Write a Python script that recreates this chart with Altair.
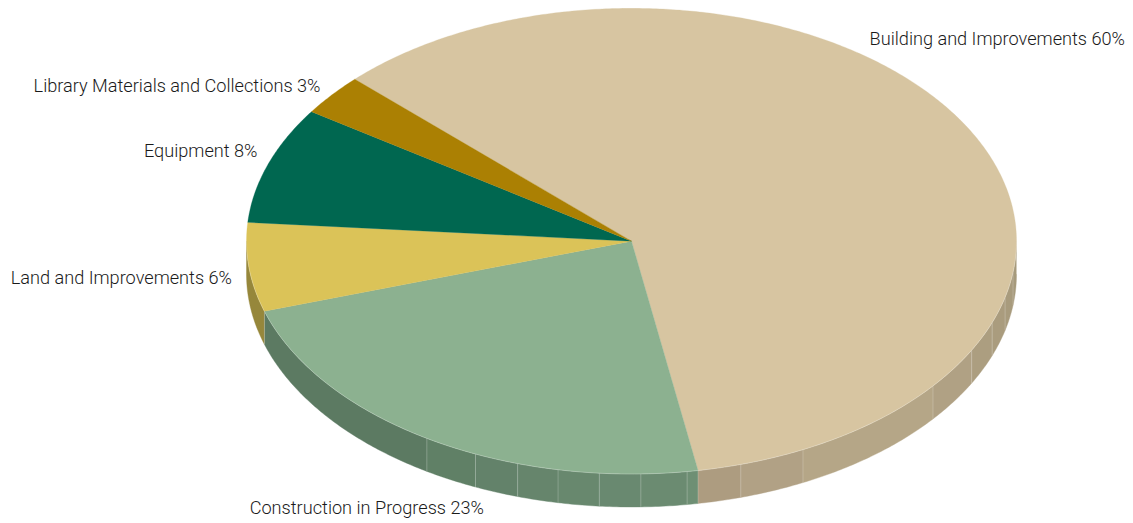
import math
import altair as alt
import pandas as pd

categories = ["Building and Improvements", "Construction in Progress", "Land and Improvements", "Equipment", "Library Materials and Collections"]
shares = [60.0, 22.9, 6.15, 8.1, 2.85]
slice_colors = ["#D7C5A1", "#8CB190", "#DBC358", "#006750", "#AB8003"]
start_angle = 314.05

# wall facets: clockwise angle (deg) of each facet edge
wall_edges = [90, 97.7, 104, 110.5, 117.9, 128.45, 153.55, 163.5, 170.05,
              171.7, 178.6, 184.8, 191.0, 197.2, 203.9, 212.1, 252.45, 270]
wall_colors = ["#A69A7C", "#A89B7D", "#AA9C7E", "#AC9E80", "#B0A184", "#B5A687", "#B1A185", "#AD9C80",
               "#6E8F74", "#6B8B71", "#698970", "#68886E", "#66856C", "#63826A", "#608066", "#5C7A62", "#96873B"]
separators = [97.7, 104, 110.5, 117.9, 128.45, 153.55, 163.5, 170.05, 171.7, 178.6, 184.8, 191.0, 197.2, 203.9, 212.1, 252.45]
depth = 33 / 233

label_anchor = [(1117, 32), (476, 501), (224, 271), (249.5, 144), (312.5, 79)]

xs = alt.Scale(domain=[-1, 1], range=[238.5, 1008.5])
ys = alt.Scale(domain=[-1, 1], range=[466, 0.3])
X = lambda: alt.X("x:Q", scale=xs, axis=None)
Y = lambda: alt.Y("y:Q", scale=ys, axis=None)


def pt(a):
    r = math.radians(a)
    return math.sin(r), math.cos(r)


def arc_angles(a0, a1):
    n = max(2, int(abs(a1 - a0) * 2) + 1)
    return [a0 + (a1 - a0) * i / (n - 1) for i in range(n)]


wall_rows = []
for k, color in enumerate(wall_colors):
    a0, a1 = wall_edges[k], wall_edges[k + 1]
    i = 0
    for a in arc_angles(a0, a1):
        x, y = pt(a)
        wall_rows.append(dict(f=k, i=i, x=x, y=y, color=color)); i += 1
    for a in arc_angles(a1, a0):
        x, y = pt(a)
        wall_rows.append(dict(f=k, i=i, x=x, y=y - depth, color=color)); i += 1

top_rows = []
angle = start_angle
for k, (s, color) in enumerate(zip(shares, slice_colors)):
    span = s * 3.6
    rows = [(0.0, 0.0)] + [pt(a) for a in arc_angles(angle, angle + span)] + [(0.0, 0.0)]
    for i, (x, y) in enumerate(rows):
        top_rows.append(dict(f=k, i=i, x=x, y=y, color=color))
    angle += span

sep_rows = []
for a in separators:
    x, y = pt(a)
    sep_rows.append(dict(x=x, y=y, y2=y - depth))

rim_rows = [dict(i=i, x=pt(a)[0], y=pt(a)[1]) for i, a in enumerate(arc_angles(90, 270))]


def polys(rows, sw):
    return alt.Chart(pd.DataFrame(rows)).mark_line(strokeWidth=sw, interpolate="linear").encode(
        x=X(), y=Y(),
        fill=alt.Fill("color:N", scale=None, legend=None),
        stroke=alt.Stroke("color:N", scale=None, legend=None),
        detail="f:N",
        order="i:Q",
    )


walls = polys(wall_rows, 0.4)
seps = alt.Chart(pd.DataFrame(sep_rows)).mark_rule(color="#FFFFFF", opacity=0.3, strokeWidth=0.7).encode(
    x=X(), y=Y(), y2="y2:Q")
top = polys(top_rows, 0.3)
rim = alt.Chart(pd.DataFrame(rim_rows)).mark_line(color="#FFFFFF", opacity=0.35, strokeWidth=0.7).encode(
    x=X(), y=Y(), order="i:Q")

layers = [walls, seps, top, rim]
for name, s, (lx, ly) in zip(categories, shares, label_anchor):
    layers.append(
        alt.Chart(pd.DataFrame({"t": [f"{name} {round(s)}%"]})).mark_text(
            align="right", baseline="middle", font="Roboto", fontWeight=300, fontSize=18.15, color="#1A1A1A"
        ).encode(text="t:N", x=alt.value(lx), y=alt.value(ly))
    )

chart = alt.layer(*layers).properties(
    width=1117, height=515, padding=0,
    autosize=alt.AutoSizeParams(type="none"),
).configure_view(stroke=None)

chart.save("out.html", embed_options={"renderer": "svg", "actions": False})
